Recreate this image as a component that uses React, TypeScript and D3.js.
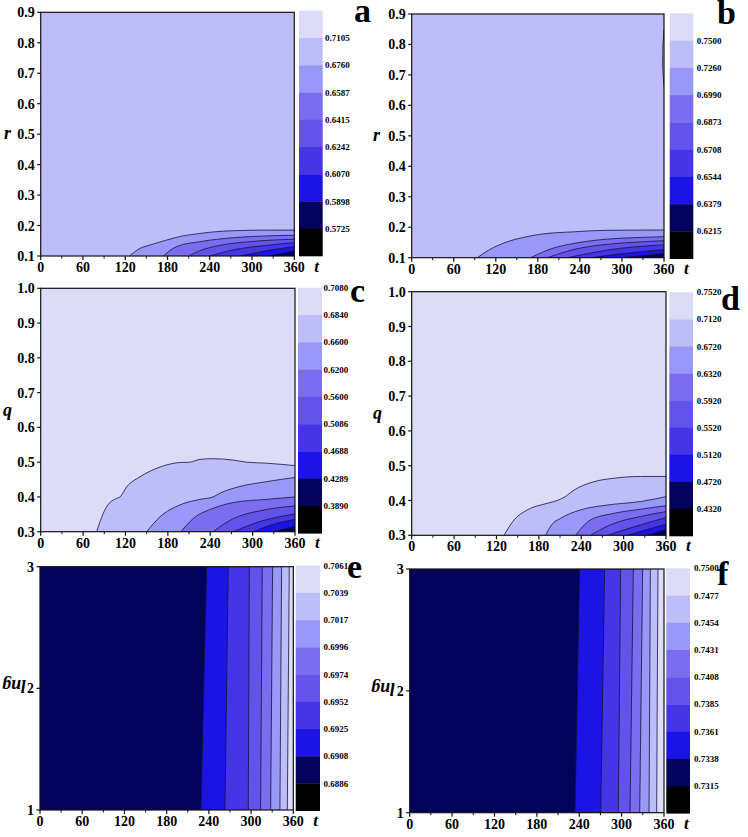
import React from "react";
import * as d3 from "d3";

type Pt = [number, number];

// Colour bands of the colour scale, from the top (lightest) to the bottom (black)
const BAND_COLORS = ["#DCDCF8", "#BDBDFA", "#9898F8", "#7C6CF0", "#6353EA", "#4535E6", "#1C14E6", "#02025C", "#000000"];

const T_MAJOR = [0, 60, 120, 180, 240, 300, 360];
const T_MINOR = [30, 90, 150, 210, 270, 330];
const R_TICKS = [0.1, 0.2, 0.3, 0.4, 0.5, 0.6, 0.7, 0.8, 0.9];
const Q_TICKS = [0.3, 0.4, 0.5, 0.6, 0.7, 0.8, 0.9, 1.0];
const LNG_TICKS = [1, 2, 3];
const LNG_LEVELS = [1, 2, 3];

// Colour-bar labels (top to bottom)
const CB_A = ["0.7105", "0.6760", "0.6587", "0.6415", "0.6242", "0.6070", "0.5898", "0.5725"];
const CB_B = ["0.7500", "0.7260", "0.6990", "0.6873", "0.6708", "0.6544", "0.6379", "0.6215"];
const CB_C = ["0.7080", "0.6840", "0.6600", "0.6200", "0.5600", "0.5086", "0.4688", "0.4289", "0.3890"];
const CB_D = ["0.7520", "0.7120", "0.6720", "0.6320", "0.5920", "0.5520", "0.5120", "0.4720", "0.4320"];
const CB_E = ["0.7061", "0.7039", "0.7017", "0.6996", "0.6974", "0.6952", "0.6925", "0.6908", "0.6886"];
const CB_F = ["0.7500", "0.7477", "0.7454", "0.7431", "0.7408", "0.7385", "0.7361", "0.7338", "0.7315"];

// Panel a: contour lines [t, r]
const A_C1: Pt[] = [[126, 0.1], [141, 0.125], [155, 0.136], [179, 0.1525], [202, 0.166], [226, 0.174], [250, 0.18], [273, 0.183], [321, 0.185], [360, 0.185]];
const A_C2: Pt[] = [[174, 0.1], [193, 0.131], [226, 0.147], [273, 0.16], [321, 0.166], [360, 0.168]];
const A_C3: Pt[] = [[210, 0.1], [226, 0.1175], [250, 0.133], [297, 0.147], [360, 0.155]];
const A_C4: Pt[] = [[240, 0.1], [273, 0.12], [321, 0.135], [360, 0.144]];
const A_C5: Pt[] = [[283, 0.1], [321, 0.1175], [360, 0.131]];
const A_C6: Pt[] = [[321, 0.1], [344, 0.109], [360, 0.118]];

// Panel b: contour lines [t, r]
const B_C1: Pt[] = [[93.7, 0.1], [110, 0.125], [136.5, 0.1525], [160, 0.167], [184, 0.177], [231.6, 0.185], [279, 0.19], [360, 0.191]];
const B_C2: Pt[] = [[169.8, 0.1], [200, 0.13], [231.6, 0.147], [279, 0.161], [320, 0.166], [360, 0.169]];
const B_C3: Pt[] = [[193.6, 0.1], [231.6, 0.127], [279, 0.144], [320, 0.151], [360, 0.156]];
const B_C4: Pt[] = [[222, 0.1], [255, 0.115], [279, 0.125], [320, 0.136], [360, 0.142]];
const B_C5: Pt[] = [[255, 0.1], [300, 0.113], [360, 0.127]];
const B_C6: Pt[] = [[298, 0.1], [330, 0.107], [360, 0.114]];
const B_EDGE: Pt[] = [[360, 0.85], [358.5, 0.8], [358, 0.75], [358.8, 0.7], [360, 0.66]];

// Panel c: contour lines [t, q]
const C_C1: Pt[] = [[79.3, 0.3], [86, 0.34], [93.4, 0.372], [107.6, 0.396], [112.3, 0.4], [121.7, 0.429], [140.6, 0.458], [168.9, 0.486], [197, 0.499], [211, 0.5], [225.5, 0.508], [244, 0.51], [272.6, 0.506], [291.5, 0.5], [320, 0.497], [360, 0.49]];
const C_C2: Pt[] = [[150, 0.3], [169, 0.343], [197, 0.377], [225.5, 0.393], [244, 0.4], [254, 0.411], [282, 0.43], [320, 0.444], [360, 0.456]];
const C_C3: Pt[] = [[198.6, 0.3], [216, 0.338], [244, 0.367], [273, 0.384], [320, 0.393], [360, 0.4]];
const C_C4: Pt[] = [[244, 0.3], [273, 0.338], [310, 0.36], [360, 0.374]];
const C_C5: Pt[] = [[273, 0.3], [310, 0.329], [360, 0.351]];
const C_C6: Pt[] = [[301, 0.3], [334, 0.324], [360, 0.335]];
const C_C7: Pt[] = [[329, 0.3], [360, 0.316]];

// Panel d: contour lines [t, q]
const D_C1: Pt[] = [[130.7, 0.3], [144.8, 0.344], [163.7, 0.373], [192, 0.392], [206, 0.4], [215.6, 0.409], [229.8, 0.43], [258, 0.454], [286.4, 0.464], [324, 0.469], [360, 0.469]];
const D_C2: Pt[] = [[189.7, 0.3], [198, 0.33], [211, 0.349], [239, 0.373], [277, 0.387], [324, 0.397], [360, 0.411]];
const D_C3: Pt[] = [[232, 0.3], [253, 0.344], [286, 0.363], [324, 0.375], [360, 0.385]];
const D_C4: Pt[] = [[253, 0.3], [286, 0.334], [324, 0.354], [360, 0.368]];
const D_C5: Pt[] = [[277, 0.3], [324, 0.33], [360, 0.351]];
const D_C6: Pt[] = [[305, 0.3], [360, 0.332]];
const D_C7: Pt[] = [[334, 0.3], [360, 0.317]];

// Panel e: boundary t at lng = 1, 2, 3
const E_B1 = [228.8, 232.8, 236.8];
const E_B2 = [262.9, 265.2, 267.6];
const E_B3 = [296, 296.8, 297.5];
const E_B4 = [313.5, 314.7, 315.9];
const E_B5 = [327.8, 329.2, 330.6];
const E_B6 = [341, 342.2, 343.4];
const E_B7 = [351.5, 352.9, 354.3];

// Panel f: boundary t at lng = 1, 2, 3
const F_B1 = [234, 237.3, 240.6];
const F_B2 = [270.4, 273.2, 276];
const F_B3 = [295.3, 297, 298.6];
const F_B4 = [311.9, 314.2, 316.6];
const F_B5 = [325.6, 327.7, 329.8];
const F_B6 = [338.8, 339.8, 340.7];
const F_B7 = [349.6, 350.5, 351.5];

const FONT = "'Liberation Serif', 'Times New Roman', serif";

type Shape = { dir: "h" | "v"; pts: Pt[]; fill: number };

const toPts = (ts: number[]): Pt[] => ts.map((t, i) => [t, LNG_LEVELS[i]] as Pt);

function Panel(p: any) {
  const x = d3.scaleLinear().domain([0, 360]).range([p.x0, p.x1]);
  const y = d3.scaleLinear().domain(p.yDomain).range([p.y1, p.y0]);
  const cb = d3.scaleLinear().domain([0, 9]).range([p.cb.y0, p.cb.y1]);
  const clipId = `clip-${p.id}`;
  const fmt = d3.format(p.yFmt);

  const areaH = d3.area<Pt>().x((d) => x(d[0])).y0(y(p.yDomain[0])).y1((d) => y(d[1])).curve(d3.curveMonotoneX);
  const lineH = d3.line<Pt>().x((d) => x(d[0])).y((d) => y(d[1])).curve(d3.curveMonotoneX);
  const areaV = d3.area<Pt>().y((d) => y(d[1])).x0((d) => x(d[0])).x1(x(360)).curve(d3.curveMonotoneY);
  const lineV = d3.line<Pt>().x((d) => x(d[0])).y((d) => y(d[1])).curve(d3.curveMonotoneY);

  const titleY = y(p.title.v) + p.title.dy;

  return (
    <g>
      <defs>
        <clipPath id={clipId}>
          <rect x={p.x0} y={p.y0} width={p.x1 - p.x0} height={p.y1 - p.y0} />
        </clipPath>
      </defs>
      <g clipPath={`url(#${clipId})`}>
        <rect x={p.x0} y={p.y0} width={p.x1 - p.x0} height={p.y1 - p.y0} fill={BAND_COLORS[p.bg]} />
        {p.shapes.map((s: Shape, i: number) => (
          <path key={"a" + i} d={(s.dir === "h" ? areaH : areaV)(s.pts) || ""} fill={BAND_COLORS[s.fill]} stroke="none" />
        ))}
        {p.shapes.map((s: Shape, i: number) => (
          <path key={"l" + i} d={(s.dir === "h" ? lineH : lineV)(s.pts) || ""} fill="none" stroke="#14143a" strokeWidth={0.8} />
        ))}
      </g>
      <rect x={p.x0} y={p.y0} width={p.x1 - p.x0} height={p.y1 - p.y0} fill="none" stroke="#111" strokeWidth={1.2} />
      {T_MAJOR.map((t) => (
        <g key={"xt" + t}>
          <line x1={x(t)} x2={x(t)} y1={p.y1} y2={p.y1 + 4} stroke="#111" strokeWidth={1.2} />
          <text x={x(t)} y={p.y1 + 16} textAnchor="middle" fontFamily={FONT} fontWeight="bold" fontSize={14}>{t}</text>
        </g>
      ))}
      {T_MINOR.map((t) => (
        <line key={"xm" + t} x1={x(t)} x2={x(t)} y1={p.y1} y2={p.y1 + 2.5} stroke="#111" strokeWidth={1} />
      ))}
      <text x={p.x1 + 20} y={p.y1 + 16} fontFamily={FONT} fontWeight="bold" fontStyle="italic" fontSize={17}>t</text>
      {p.yTicks.map((v: number) => (
        <g key={"yt" + v}>
          <line x1={p.x0 - 3.5} x2={p.x0} y1={y(v)} y2={y(v)} stroke="#111" strokeWidth={1.2} />
          <text x={p.x0 - 6} y={y(v) + 5} textAnchor="end" fontFamily={FONT} fontWeight="bold" fontSize={14}>{fmt(v)}</text>
        </g>
      ))}
      {p.title.rotate ? (
        <text transform={`translate(${p.title.x},${titleY}) rotate(180)`} textAnchor="middle" fontFamily={FONT} fontWeight="bold" fontStyle="italic" fontSize={18}>{p.title.text}</text>
      ) : (
        <text x={p.title.x} y={titleY} fontFamily={FONT} fontWeight="bold" fontStyle="italic" fontSize={18}>{p.title.text}</text>
      )}
      {BAND_COLORS.map((c, i) => (
        <rect key={"cb" + i} x={p.cb.x0} y={cb(i)} width={p.cb.x1 - p.cb.x0} height={cb(i + 1) - cb(i) + 0.3} fill={c} />
      ))}
      {p.cb.labels.map((l: string, i: number) => (
        <text key={"cl" + i} x={p.cb.lx} y={cb(p.cb.start + i) + 1} dominantBaseline="middle" fontFamily={FONT} fontWeight="bold" fontSize={9}>{l}</text>
      ))}
      <text x={p.letter.x} y={p.letter.y} fontFamily={FONT} fontWeight="bold" fontSize={34}>{p.letter.text}</text>
    </g>
  );
}

export default function App() {
  const panels = [
    {
      id: "a", x0: 40.7, x1: 294.3, y0: 12.3, y1: 256, yDomain: [0.1, 0.9], yTicks: R_TICKS, yFmt: ".1f", bg: 1,
      shapes: [A_C1, A_C2, A_C3, A_C4, A_C5, A_C6].map((pts, i) => ({ dir: "h", pts, fill: 2 + i })),
      cb: { x0: 299, x1: 322.7, y0: 10.7, y1: 256, labels: CB_A, start: 1, lx: 325 },
      letter: { text: "a", x: 354, y: 22 },
      title: { text: "r", x: 4, v: 0.5, dy: 5 },
    },
    {
      id: "b", x0: 411.7, x1: 664, y0: 14, y1: 257.7, yDomain: [0.1, 0.9], yTicks: R_TICKS, yFmt: ".1f", bg: 1,
      shapes: [
        ...[B_C1, B_C2, B_C3, B_C4, B_C5, B_C6].map((pts, i) => ({ dir: "h", pts, fill: 2 + i })),
        { dir: "v", pts: B_EDGE, fill: 0 },
      ],
      cb: { x0: 669.7, x1: 693.3, y0: 13.3, y1: 258.7, labels: CB_B, start: 1, lx: 696.7 },
      letter: { text: "b", x: 717, y: 24 },
      title: { text: "r", x: 373, v: 0.5, dy: 5 },
    },
    {
      id: "c", x0: 40.7, x1: 295, y0: 288.3, y1: 531.7, yDomain: [0.3, 1.0], yTicks: Q_TICKS, yFmt: ".1f", bg: 0,
      shapes: [C_C1, C_C2, C_C3, C_C4, C_C5, C_C6, C_C7].map((pts, i) => ({ dir: "h", pts, fill: 1 + i })),
      cb: { x0: 298, x1: 322, y0: 287.7, y1: 533.3, labels: CB_C, start: 0, lx: 323.5 },
      letter: { text: "c", x: 350, y: 302 },
      title: { text: "q", x: 3, v: 0.65, dy: 6 },
    },
    {
      id: "d", x0: 411.7, x1: 666, y0: 291.7, y1: 535.3, yDomain: [0.3, 1.0], yTicks: Q_TICKS, yFmt: ".1f", bg: 0,
      shapes: [D_C1, D_C2, D_C3, D_C4, D_C5, D_C6, D_C7].map((pts, i) => ({ dir: "h", pts, fill: 1 + i })),
      cb: { x0: 669.3, x1: 693, y0: 292.3, y1: 536, labels: CB_D, start: 0, lx: 696.7 },
      letter: { text: "d", x: 721, y: 310 },
      title: { text: "q", x: 373, v: 0.65, dy: 5 },
    },
    {
      id: "e", x0: 40, x1: 293.3, y0: 566.7, y1: 810, yDomain: [1, 3], yTicks: LNG_TICKS, yFmt: "d", bg: 7,
      shapes: [E_B1, E_B2, E_B3, E_B4, E_B5, E_B6, E_B7].map((ts, i) => ({ dir: "v", pts: toPts(ts), fill: 6 - i })),
      cb: { x0: 295.7, x1: 320, y0: 565.7, y1: 810.7, labels: CB_E, start: 0, lx: 323.5 },
      letter: { text: "e", x: 347, y: 578 },
      title: { text: "lng", x: 14, v: 2, dy: -8, rotate: true },
    },
    {
      id: "f", x0: 409.7, x1: 664, y0: 569, y1: 812.7, yDomain: [1, 3], yTicks: LNG_TICKS, yFmt: "d", bg: 7,
      shapes: [F_B1, F_B2, F_B3, F_B4, F_B5, F_B6, F_B7].map((ts, i) => ({ dir: "v", pts: toPts(ts), fill: 6 - i })),
      cb: { x0: 666.3, x1: 690, y0: 568.3, y1: 813.3, labels: CB_F, start: 0, lx: 694 },
      letter: { text: "f", x: 717, y: 585 },
      title: { text: "lng", x: 383, v: 2, dy: -8, rotate: true },
    },
  ];

  return (
    <svg width={748} height={837} style={{ position: "absolute", left: 0, top: 0, background: "#fff" }}>
      <rect x={0} y={0} width={748} height={837} fill="#fff" />
      {panels.map((p) => (
        <Panel key={p.id} {...p} />
      ))}
    </svg>
  );
}
